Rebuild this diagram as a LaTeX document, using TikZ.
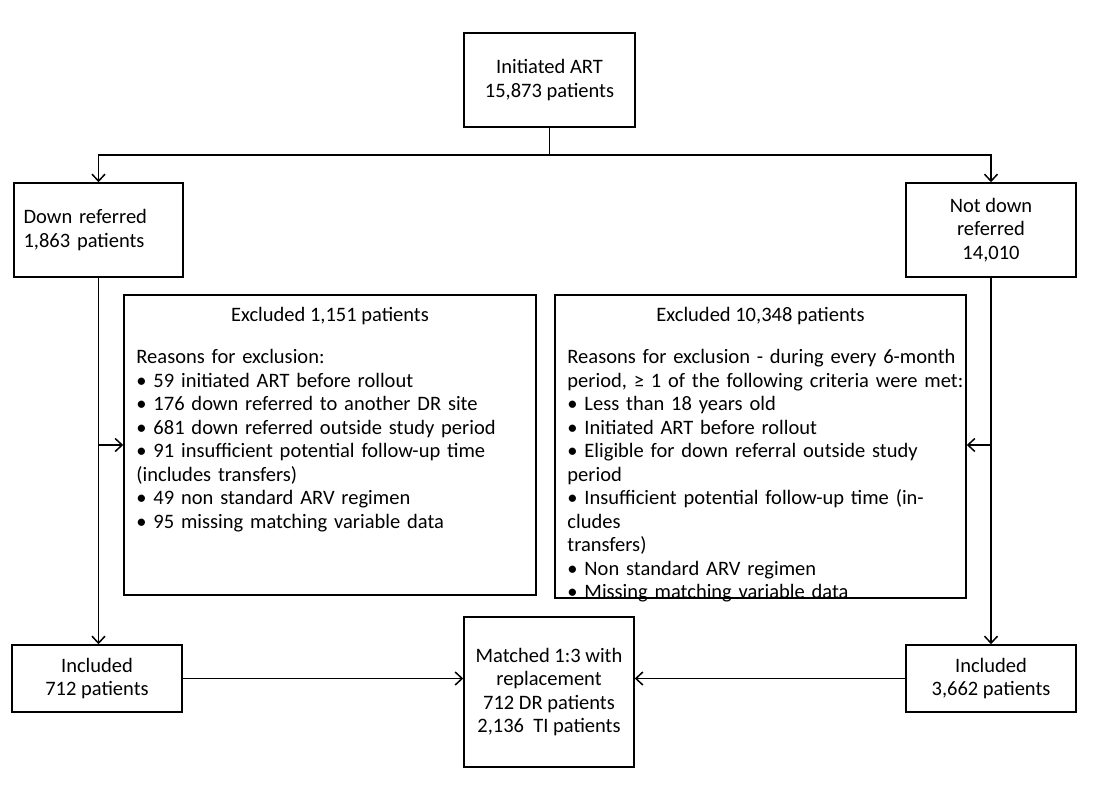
\documentclass[tikz,border=0pt]{standalone}
\usepackage{fontspec}
\setmainfont{Carlito}
\usetikzlibrary{arrows.meta}
\tikzset{
  box/.style={draw, line width=1.5pt, align=center, inner sep=0pt},
  arr/.style={-{Straight Barb[length=7pt, width=13pt, line width=1.5pt]}, line width=1.5pt},
  lst/.style={anchor=north west, align=left, inner sep=0pt, text width=#1},
}
\begin{document}
\begin{tikzpicture}[x=1pt, y=-1pt, font=\fontsize{20.5}{23.5}\selectfont]
    \useasboundingbox (0,0) rectangle (1095,800);
    % boxes
    \node[box, minimum width=171, minimum height=94] (start) at (549.5,80) {Initiated ART\\15,873 patients};
    \node[box, minimum width=169, minimum height=94, align=left, text width=150] (dr) at (98.5,230) {Down referred\\1,863 patients};
    \node[box, minimum width=170, minimum height=94] (ndr) at (991,230) {Not down\\referred\\14,010};
    \node[box, minimum width=412, minimum height=300] (exl) at (330,445) {};
    \node[box, minimum width=411, minimum height=303] (exr) at (760.5,446.5) {};
    \node[box, minimum width=170, minimum height=67] (incl) at (97,678.5) {Included\\712 patients};
    \node[box, minimum width=170, minimum height=150] (match) at (549,692) {Matched 1:3 with\\replacement\\712 DR patients\\2,136~ TI patients};
    \node[box, minimum width=170, minimum height=67] (incr) at (991,678.5) {Included\\3,662 patients};
    % exclusion texts
    \node[anchor=north, inner sep=0pt] (exltitle) at ([yshift=-13]exl.north) {Excluded 1,151 patients};
    \node[lst=400] (exllist) at ([xshift=13, yshift=-55]exl.north west) {Reasons for exclusion:\\
      \textbullet\ 59 initiated ART before rollout\\
      \textbullet\ 176 down referred to another DR site\\
      \textbullet\ 681 down referred outside study period\\
      \textbullet\ 91 insufficient potential follow-up time\\(includes transfers)\\
      \textbullet\ 49 non standard ARV regimen\\
      \textbullet\ 95 missing matching variable data};
    \node[anchor=north, inner sep=0pt] (exrtitle) at ([yshift=-13]exr.north) {Excluded 10,348 patients};
    \node[lst=400] (exrlist) at ([xshift=13, yshift=-55]exr.north west) {Reasons for exclusion - during every 6-month\\period, ≥ 1 of the following criteria were met:\\
      \textbullet\ Less than 18 years old\\
      \textbullet\ Initiated ART before rollout\\
      \textbullet\ Eligible for down referral outside study\\period\\
      \textbullet\ Insufficient potential follow-up time (includes\\transfers)\\
      \textbullet\ Non standard ARV regimen\\
      \textbullet\ Missing matching variable data};
    % connectors
    \coordinate (split) at (start.south |- 0,155);
    \draw[line width=1.5pt] (start.south) -- (split);
    \draw[arr] (split) -| (dr.north);
    \draw[arr] (split) -| (ndr.north);
    \draw[arr] (dr.south) -- (dr.south |- incl.north);
    \draw[arr] (ndr.south) -- (ndr.south |- incr.north);
    \coordinate (tapl) at (dr.south |- 0,445);
    \coordinate (tapr) at (ndr.south |- 0,445);
    \draw[arr] (tapl) -- (tapl -| exl.west);
    \draw[arr] (tapr) -- (tapr -| exr.east);
    \draw[arr] (incl.east) -- (incl.east -| match.west);
    \draw[arr] (incr.west) -- (incr.west -| match.east);
\end{tikzpicture}
\end{document}
